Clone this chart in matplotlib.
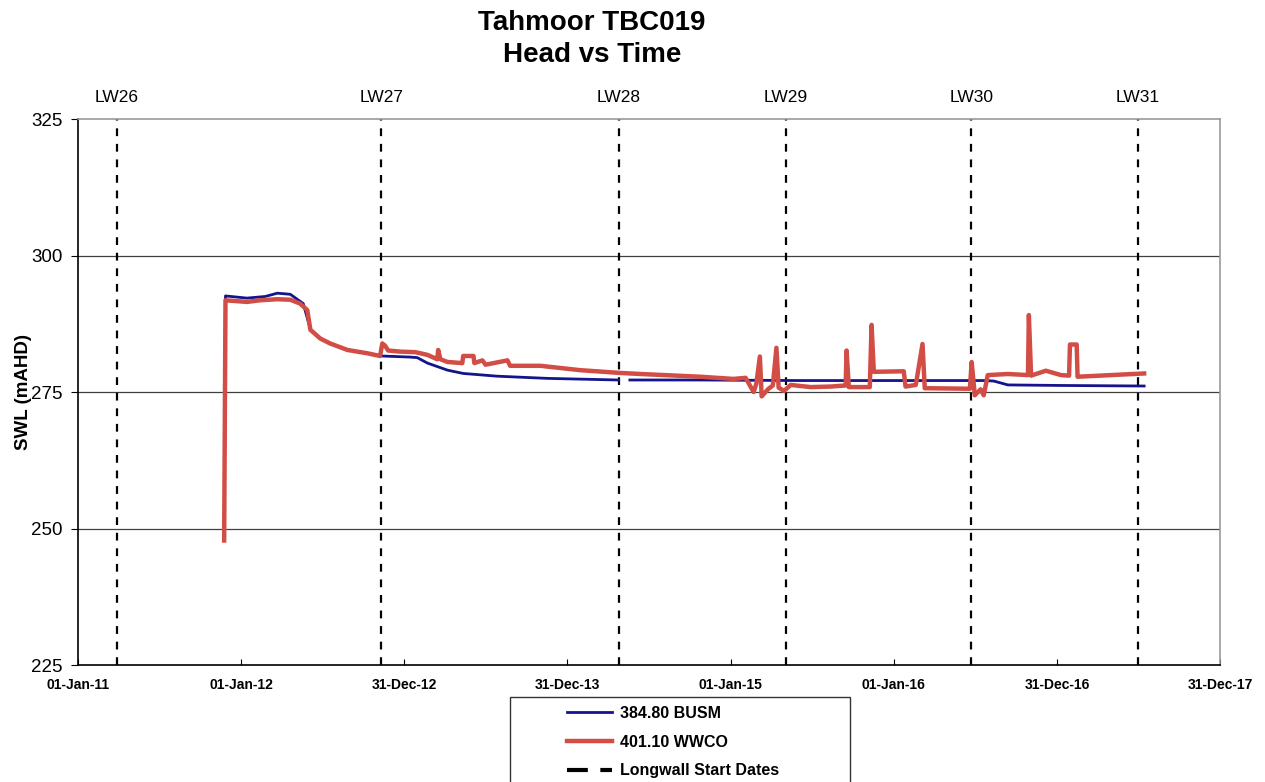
#! /usr/bin/env python3
import matplotlib
matplotlib.use('Agg')
import matplotlib.pyplot as plt
import matplotlib.dates as mdates
import matplotlib.transforms as mtransforms
from matplotlib.patches import Rectangle
import numpy as np
import pandas as pd

plt.rcParams['font.family'] = ['Liberation Sans', 'DejaVu Sans']

# Longwall start dates
lw_names = ['LW26', 'LW27', 'LW28', 'LW29', 'LW30', 'LW31']
lw_dates = ['2011-03-29', '2012-11-10', '2014-04-25', '2015-05-04', '2016-06-22', '2017-06-30']

# 384.80 BUSM
busm_dates = ['2011-11-24', '2011-11-27', '2012-01-14', '2012-02-24', '2012-03-22', '2012-04-20',
              '2012-05-19', '2012-06-04', '2012-06-26', '2012-07-18', '2012-08-26', '2012-10-09',
              '2012-11-10', '2013-01-13', '2013-01-29', '2013-02-21', '2013-04-07', '2013-05-12',
              '2013-07-27', '2013-11-16', '2014-04-25', '2014-05-05', '2014-05-20', '2014-10-25',
              '2015-06-06', '2016-01-16', '2016-07-25', '2016-08-12', '2016-09-12', '2017-01-09',
              '2017-07-14']
busm_swl = [248.0, 292.6, 292.2, 292.5, 293.1, 292.9,
            291.2, 286.5, 284.8, 283.9, 282.7, 282.1,
            281.6, 281.4, 281.3, 280.3, 279.0, 278.4,
            277.9, 277.5, 277.2, np.nan, 277.2, 277.2,
            277.1, 277.1, 277.1, 277.0, 276.3, 276.2,
            276.1]

# 401.10 WWCO
wwco_dates = ['2011-11-24', '2011-11-27', '2012-01-14', '2012-02-12', '2012-03-22', '2012-04-20',
              '2012-05-12', '2012-05-28', '2012-06-04', '2012-06-26', '2012-07-18', '2012-08-26',
              '2012-10-09', '2012-11-07', '2012-11-12', '2012-11-18', '2012-11-25', '2012-12-22',
              '2013-01-25', '2013-02-21', '2013-03-15', '2013-03-17', '2013-03-22', '2013-04-07',
              '2013-05-10', '2013-05-12', '2013-06-04', '2013-06-06', '2013-06-24', '2013-07-01',
              '2013-08-19', '2013-08-25', '2013-11-01', '2014-01-29', '2014-04-27', '2014-06-13',
              '2014-10-25', '2015-01-07', '2015-02-03', '2015-02-21', '2015-02-27', '2015-03-07',
              '2015-03-11', '2015-03-25', '2015-04-05', '2015-04-13', '2015-04-18', '2015-04-30',
              '2015-05-15', '2015-06-29', '2015-08-13', '2015-09-15', '2015-09-17', '2015-09-22',
              '2015-11-08', '2015-11-12', '2015-11-17', '2016-01-23', '2016-01-27', '2016-02-19',
              '2016-03-05', '2016-03-10', '2016-06-19', '2016-06-23', '2016-06-30', '2016-07-13',
              '2016-07-20', '2016-07-29', '2016-09-12', '2016-10-27', '2016-10-29', '2016-11-03',
              '2016-12-06', '2017-01-09', '2017-01-27', '2017-01-29', '2017-02-13', '2017-02-15',
              '2017-05-01', '2017-07-14']
wwco_swl = [247.8, 291.8, 291.5, 291.8, 292.0, 291.9,
            291.2, 290.0, 286.4, 284.8, 283.9, 282.7,
            282.1, 281.6, 283.9, 283.5, 282.6, 282.4,
            282.3, 281.8, 281.0, 282.7, 281.0, 280.5,
            280.3, 281.6, 281.6, 280.3, 280.8, 280.0,
            280.8, 279.8, 279.8, 279.0, 278.5, 278.3,
            277.8, 277.4, 277.6, 275.0, 276.5, 281.5,
            274.2, 275.5, 276.2, 283.1, 275.8, 275.2,
            276.3, 275.9, 276.0, 276.2, 282.6, 275.9,
            275.9, 287.3, 278.7, 278.8, 276.0, 276.3,
            283.8, 275.7, 275.6, 280.5, 274.4, 275.5,
            274.4, 278.1, 278.3, 278.1, 289.1, 278.0,
            278.9, 278.1, 278.0, 283.7, 283.7, 277.8,
            278.1, 278.4]

tick_dates = ['2011-01-01', '2012-01-01', '2012-12-31', '2013-12-31',
              '2015-01-01', '2016-01-01', '2016-12-31', '2017-12-31']

fig = plt.figure(figsize=(12.65, 7.82), dpi=100)
ax = fig.add_axes([0.0617, 0.1496, 0.9028, 0.6982])

for y in [250, 275, 300]:
    ax.axhline(y, color='#404040', lw=0.9, zorder=1)

lw_dt = pd.to_datetime(lw_dates)
for name, d in zip(lw_names, lw_dt):
    ax.axvline(d, color='black', lw=1.6, dashes=(3.5, 3.5), zorder=2)
    ax.text(d, 1.04, name, transform=mtransforms.blended_transform_factory(ax.transData, ax.transAxes),
            ha='center', va='center', fontsize=12.5)

ax.plot(pd.to_datetime(busm_dates), busm_swl, color='#14148c', lw=2.0, zorder=3,
        label='384.80 BUSM')
ax.plot(pd.to_datetime(wwco_dates), wwco_swl, color='#d24d45', lw=3.2, zorder=4,
        label='401.10 WWCO')
ax.plot([], [], color='black', lw=3, dashes=(5, 3), label='Longwall Start Dates')

ax.set_xlim(pd.Timestamp('2011-01-01'), pd.Timestamp('2017-12-31'))
ax.set_ylim(225, 325)
ax.set_yticks([225, 250, 275, 300, 325])
ax.set_xticks(pd.to_datetime(tick_dates))
ax.xaxis.set_major_formatter(mdates.DateFormatter('%d-%b-%y'))
ax.tick_params(axis='x', direction='in', length=4, pad=9, labelsize=10)
ax.tick_params(axis='y', direction='out', length=5, pad=6, labelsize=13.5)
for lbl in ax.get_xticklabels():
    lbl.set_fontweight('bold')

ax.spines['left'].set_color('black')
ax.spines['bottom'].set_color('black')
ax.spines['top'].set_color('#999999')
ax.spines['right'].set_color('#999999')
for s in ax.spines.values():
    s.set_linewidth(1.2)

ax.set_ylabel('SWL (mAHD)', fontsize=13.5, fontweight='bold')
ax.yaxis.set_label_coords(-0.04, 0.5)

fig.text(592 / 1265, 1 - 23 / 782, 'Tahmoor TBC019', ha='center', va='center',
         fontsize=20, fontweight='bold')
fig.text(592 / 1265, 1 - 55 / 782, 'Head vs Time', ha='center', va='center',
         fontsize=20, fontweight='bold')

# legend box sits below the plot and runs off the bottom edge
fig.patches.append(Rectangle((510 / 1265, -0.05), 340 / 1265, (1 - 697 / 782) + 0.05,
                             transform=fig.transFigure, fill=False,
                             edgecolor='#333333', lw=1.0))
leg = fig.legend(loc='upper left', bbox_to_anchor=(567 / 1265, 1 - 706 / 782),
                 frameon=False, prop={'weight': 'bold', 'size': 11.5},
                 handlelength=2.8, borderpad=0, labelspacing=0.85,
                 handletextpad=0.5, borderaxespad=0)

fig.savefig('out.png', dpi=100)
